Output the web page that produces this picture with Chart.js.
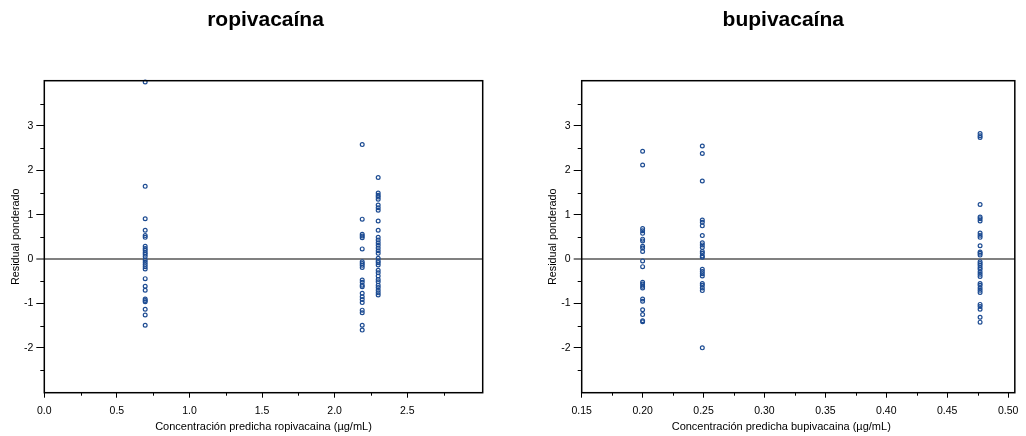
<!DOCTYPE html>
<html><head><meta charset="utf-8">
<script src="https://cdn.jsdelivr.net/npm/chart.js@4"></script>
<style>
html,body{margin:0;padding:0;background:#fff;}
#wrap{position:relative;width:1026px;height:436px;background:#fff;}
.box{position:absolute;top:0;width:513px;height:436px;}
canvas{display:block;}
</style></head><body>
<div id="wrap">
<div class="box" style="left:0"><canvas id="c1" width="513" height="436"></canvas></div>
<div class="box" style="left:513px"><canvas id="c2" width="513" height="436"></canvas></div>
</div>
<script>
// ---------- data ----------
const ropiTitle = 'ropivacaína';
const bupiTitle = 'bupivacaína';
const yAxisTitle = 'Residual ponderado';
const ropiXTitle = 'Concentración predicha ropivacaina (µg/mL)';
const bupiXTitle = 'Concentración predicha bupivacaina (µg/mL)';

const ropiConc = [0.695, 2.19, 2.30];
const ropiResidA = [3.99, 1.64, 0.91, 0.65, 0.53, 0.49, 0.29, 0.24, 0.20, 0.15, 0.11, 0.06, -0.02, -0.07, -0.12, -0.17, -0.22, -0.44, -0.61, -0.70, -0.90, -0.93, -0.96, -1.13, -1.26, -1.49];
const ropiResidB = [2.58, 0.90, 0.56, 0.52, 0.48, 0.23, -0.06, -0.10, -0.14, -0.19, -0.47, -0.52, -0.59, -0.62, -0.77, -0.85, -0.91, -0.98, -1.15, -1.21, -1.49, -1.60];
const ropiResidC = [1.84, 1.49, 1.44, 1.40, 1.35, 1.22, 1.16, 1.10, 0.86, 0.65, 0.49, 0.43, 0.37, 0.31, 0.25, 0.19, 0.13, 0.02, -0.04, -0.08, -0.13, -0.25, -0.31, -0.38, -0.46, -0.51, -0.59, -0.64, -0.70, -0.76, -0.81];

const bupiConc = [0.200, 0.249, 0.477];
const bupiResidA = [2.43, 2.12, 0.69, 0.64, 0.58, 0.45, 0.41, 0.29, 0.25, 0.17, -0.04, -0.17, -0.52, -0.56, -0.61, -0.65, -0.90, -0.95, -1.14, -1.25, -1.39, -1.41];
const bupiResidB = [2.55, 2.38, 1.76, 0.88, 0.83, 0.75, 0.53, 0.37, 0.32, 0.26, 0.17, 0.13, 0.07, 0.04, -0.23, -0.28, -0.33, -0.38, -0.55, -0.59, -0.65, -0.71, -2.00];
const bupiResidC = [2.83, 2.78, 2.74, 1.23, 0.95, 0.91, 0.86, 0.59, 0.54, 0.49, 0.30, 0.16, 0.13, 0.09, -0.06, -0.10, -0.14, -0.19, -0.23, -0.29, -0.34, -0.39, -0.55, -0.59, -0.65, -0.70, -0.75, -1.02, -1.07, -1.13, -1.31, -1.42];

const yMajor = [-2, -1, 0, 1, 2, 3];
const yTickLabels = ['-2', '-1', '0', '1', '2', '3'];
const yMinor = [-2.5, -1.5, -0.5, 0.5, 1.5, 2.5, 3.5];
const yRange = [-3.01, 4.02];

const ropiXMajor = [0, 0.5, 1.0, 1.5, 2.0, 2.5];
const ropiXLabels = ['0.0', '0.5', '1.0', '1.5', '2.0', '2.5'];
const ropiXMinor = [0.25, 0.75, 1.25, 1.75, 2.25, 2.75];
const ropiXRange = [0, 3.02];

const bupiXMajor = [0.15, 0.20, 0.25, 0.30, 0.35, 0.40, 0.45, 0.50];
const bupiXLabels = ['0.15', '0.20', '0.25', '0.30', '0.35', '0.40', '0.45', '0.50'];
const bupiXMinor = [0.175, 0.225, 0.275, 0.325, 0.375, 0.425, 0.475];
const bupiXRange = [0.15, 0.5055];

// ---------- rendering ----------
const FONT = "'Liberation Sans', Arial, Helvetica, sans-serif";
const POINT_COLOR = '#1c4b92';

const framePlugin = {
  id: 'frame',
  afterLayout(chart, args, opts) {
    // horizontal nudge of the chart title and x-axis title
    const tb = chart.titleBlock;
    if (tb && opts.titleDx && !tb._shifted) {
      const orig = tb.draw.bind(tb);
      tb.draw = function () { const c = chart.ctx; c.save(); c.translate(opts.titleDx, 0); orig(); c.restore(); };
      tb._shifted = true;
    }
    const xs = chart.scales.x;
    if (xs && opts.xTitleDx && !xs._shifted) {
      const origT = xs.drawTitle.bind(xs);
      xs.drawTitle = function () { const c = chart.ctx; c.save(); c.translate(opts.xTitleDx, 0); origT(); c.restore(); };
      xs._shifted = true;
    }
  },
  afterDraw(chart, args, opts) {
    const {ctx, chartArea: a, scales} = chart;
    ctx.save();
    ctx.strokeStyle = '#000';
    ctx.lineWidth = 1;
    opts.xMinor.forEach(v => {
      const px = Math.round(scales.x.getPixelForValue(v)) + 0.5;
      ctx.beginPath(); ctx.moveTo(px, a.bottom); ctx.lineTo(px, a.bottom + 3); ctx.stroke();
    });
    opts.yMinor.forEach(v => {
      const py = Math.round(scales.y.getPixelForValue(v)) + 0.5;
      ctx.beginPath(); ctx.moveTo(a.left - 4, py); ctx.lineTo(a.left, py); ctx.stroke();
    });
    ctx.lineWidth = 1.5;
    ctx.strokeRect(a.left, a.top, a.right - a.left, a.bottom - a.top);
    ctx.restore();
  }
};

function toPoints(conc, resid) {
  return resid.map(v => ({x: conc, y: v}));
}

function makeChart(id, title, xTitle, conc, resids, xMajor, xLabels, xMinor, xRange, padLeft, padRight, titleDx, xTitleDx) {
  const datasets = resids.map((r, i) => ({
    data: toPoints(conc[i], r),
    pointStyle: 'circle',
    pointRadius: 1.9,
    pointHoverRadius: 1.9,
    pointBorderWidth: 1.2,
    pointBorderColor: POINT_COLOR,
    pointBackgroundColor: 'rgba(255,255,255,0)',
    showLine: false,
    clip: false
  }));
  return new Chart(document.getElementById(id), {
    type: 'scatter',
    data: {datasets},
    options: {
      responsive: false,
      animation: false,
      devicePixelRatio: 1,
      events: [],
      layout: {padding: {left: padLeft, right: padRight, top: 0, bottom: 0}},
      plugins: {
        legend: {display: false},
        tooltip: {enabled: false},
        title: {
          display: true, text: title, color: '#000', fullSize: false,
          font: {family: FONT, size: 21, weight: 'bold', lineHeight: 1.2},
          padding: {top: 7.6, bottom: 47.9}
        },
        frame: {xMinor, yMinor, titleDx, xTitleDx}
      },
      scales: {
        x: {
          type: 'linear', min: xRange[0], max: xRange[1],
          afterBuildTicks: s => { s.ticks = xMajor.map(v => ({value: v})); },
          afterFit: s => { s.height = 43.3; },
          ticks: {
            autoSkip: false, maxRotation: 0, padding: 7.5, color: '#000',
            font: {family: FONT, size: 10.5},
            callback: (v, i) => xLabels[i]
          },
          grid: {drawOnChartArea: false, drawTicks: true, tickLength: 5, tickColor: '#000', tickWidth: 1},
          border: {display: false},
          title: {
            display: true, text: xTitle, color: '#000',
            font: {family: FONT, size: 11, lineHeight: 1.2},
            padding: {top: 0, bottom: 2.4}
          }
        },
        y: {
          type: 'linear', min: yRange[0], max: yRange[1],
          afterBuildTicks: s => { s.ticks = yMajor.map(v => ({value: v})); },
          afterFit: s => { s.width = 44.3; },
          ticks: {
            autoSkip: false, padding: 3, color: '#000',
            font: {family: FONT, size: 10.5},
            callback: (v, i) => yTickLabels[i]
          },
          grid: {
            drawOnChartArea: true, drawTicks: true, tickLength: 8,
            tickColor: '#000', tickWidth: 1,
            color: c => (c.tick && c.tick.value === 0) ? '#808080' : 'rgba(0,0,0,0)',
            lineWidth: c => (c.tick && c.tick.value === 0) ? 2 : 1
          },
          border: {display: false},
          title: {
            display: true, text: yAxisTitle, color: '#000',
            font: {family: FONT, size: 10.8, lineHeight: 1.2},
            padding: {top: 9.5, bottom: 0}
          }
        }
      }
    },
    plugins: [framePlugin]
  });
}

makeChart('c1', ropiTitle, ropiXTitle, ropiConc, [ropiResidA, ropiResidB, ropiResidC],
  ropiXMajor, ropiXLabels, ropiXMinor, ropiXRange, 0, 30.3, 2, 0);
makeChart('c2', bupiTitle, bupiXTitle, bupiConc, [bupiResidA, bupiResidB, bupiResidC],
  bupiXMajor, bupiXLabels, bupiXMinor, bupiXRange, 24.4, 6.7, -15, -17);
</script>
</body></html>
